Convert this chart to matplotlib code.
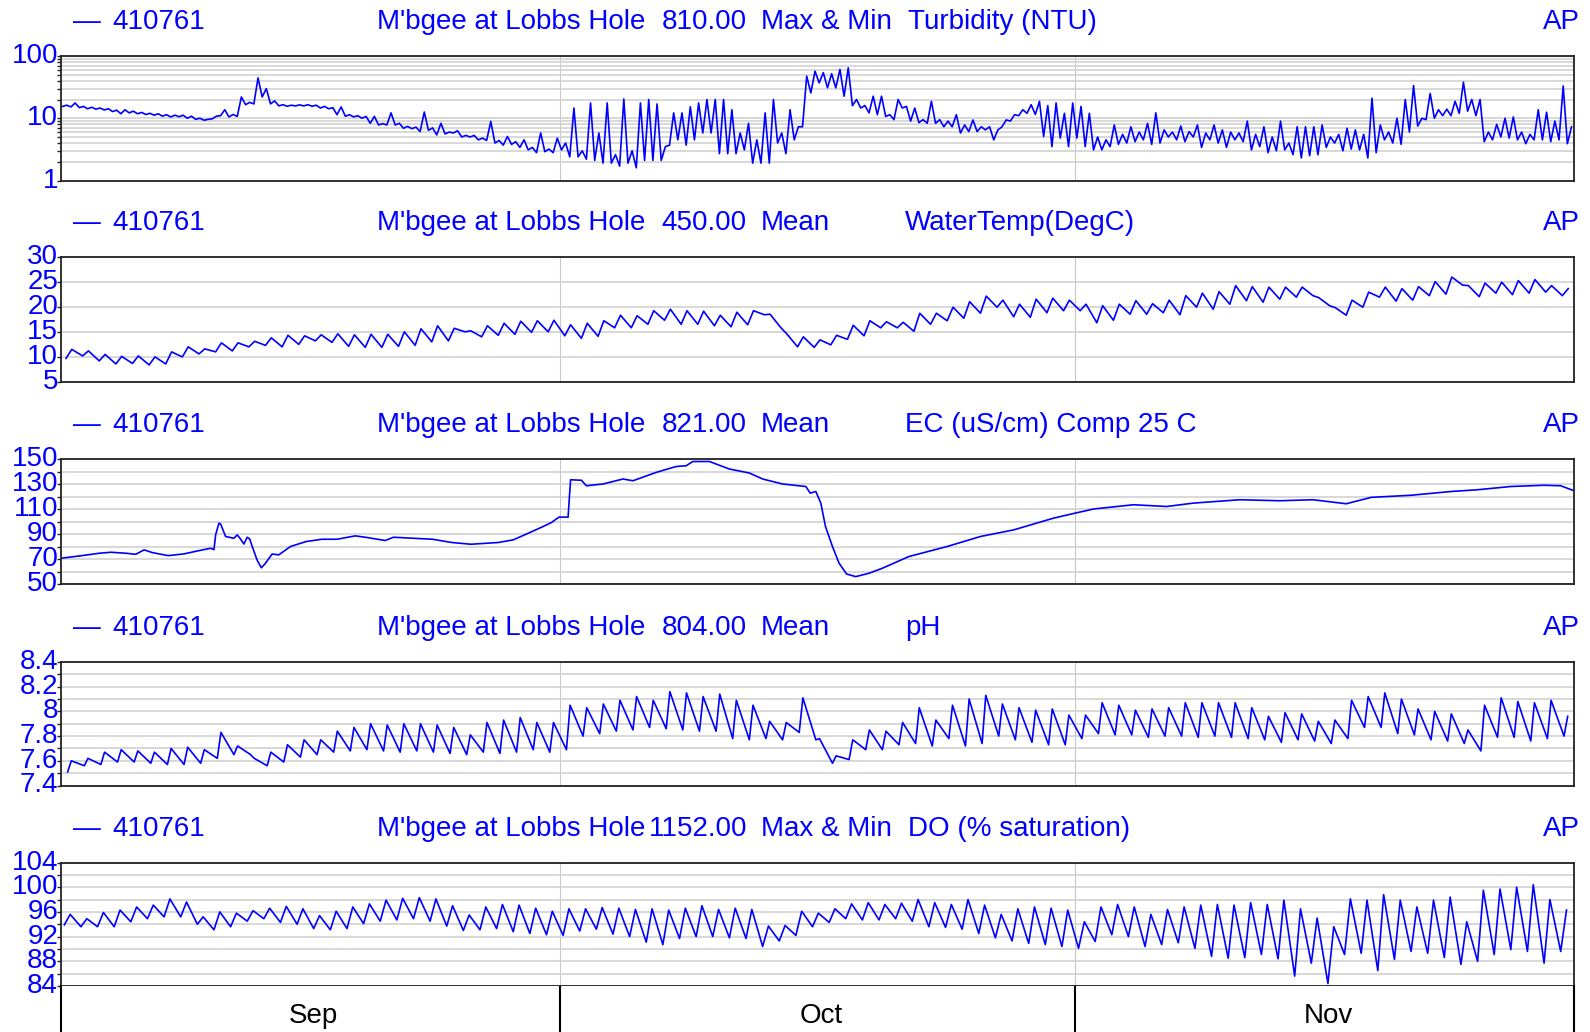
import numpy as np
import matplotlib
matplotlib.use('Agg')
import matplotlib.pyplot as plt
from matplotlib import ticker, transforms

plt.rcParams['font.family'] = ['Liberation Sans', 'DejaVu Sans']

BLUE = '#0000ff'

# header fields for each trace
station = '410761'
site = "M'bgee at Lobbs Hole"
var_nums = ['810.00', '450.00', '821.00', '804.00', '1152.00']
stats = ['Max & Min', 'Mean', 'Mean', 'Mean', 'Max & Min']
params = ['Turbidity (NTU)', 'WaterTemp(DegC)', 'EC (uS/cm) Comp 25 C', 'pH', 'DO (% saturation)']
months = ['Sep', 'Oct', 'Nov']
month_len = [30, 31, 30]

# turbidity, half-daily low / high (NTU), 1 Sep - 30 Nov
turb_lo = [
    15.5, 15.2, 14.8, 14.2, 14.0, 13.6, 12.8, 11.8, 12.2, 11.8,
    11.5, 11.2, 10.8, 10.5, 10.6, 10.0, 9.6, 9.3, 9.8, 11.0,
    10.5, 10.7, 16.5, 17.0, 22.0, 17.0, 15.8, 15.6, 15.8, 15.8,
    15.6, 14.6, 14.2, 11.4, 10.8, 10.5, 10.0, 8.3, 7.8, 7.8,
    7.8, 6.9, 6.8, 6.1, 6.4, 5.4, 5.6, 5.8, 5.0, 5.0,
    4.5, 4.4, 4.0, 3.7, 3.8, 3.4, 3.1, 2.8, 2.9, 2.8,
    3.1, 2.4, 2.4, 2.2, 2.1, 1.9, 1.9, 1.7, 1.9, 1.6,
    2.1, 2.1, 2.1, 3.7, 4.5, 3.7, 4.5, 5.8, 5.8, 2.7,
    2.7, 2.7, 3.1, 1.9, 1.9, 1.9, 4.0, 2.7, 4.5, 7.3,
    25.5, 37.0, 30.8, 30.8, 22.6, 15.9, 14.6, 12.2, 11.4, 10.7,
    9.5, 14.6, 9.0, 8.5, 8.3, 8.3, 7.3, 7.3, 5.8, 6.1,
    6.1, 6.5, 4.5, 7.3, 9.0, 11.0, 12.0, 11.5, 5.1, 3.5,
    4.8, 3.5,
    4.8, 3.5, 3.1, 3.1, 3.5, 3.8, 4.0, 4.2, 4.5, 3.8,
    4.0, 5.0, 4.5, 4.2, 5.0, 3.4, 4.5, 4.0, 3.4, 4.5,
    4.2, 3.1, 3.5, 2.8, 3.0, 3.1, 2.6, 2.3, 2.5, 2.6,
    3.4, 4.0, 3.0, 3.2, 3.1, 2.3, 2.8, 4.5, 4.0, 3.8,
    6.0, 7.5, 9.5, 10.0, 11.0, 11.0, 12.0, 13.0, 11.0, 4.2,
    4.5, 5.0, 4.8, 4.5, 3.9, 4.5, 4.5, 4.2, 4.5, 3.9,
]
turb_hi = [
    16.2, 17.6, 15.5, 15.0, 14.6, 14.2, 13.5, 13.7, 13.0, 12.4,
    12.0, 11.8, 11.4, 11.2, 11.2, 10.8, 10.0, 9.6, 10.8, 13.7,
    11.5, 22.0, 18.0, 44.5, 30.0, 19.0, 16.5, 16.2, 16.4, 16.5,
    16.2, 15.5, 14.8, 15.2, 11.4, 11.0, 10.7, 10.7, 8.2, 12.2,
    8.3, 7.4, 7.2, 12.6, 7.0, 8.3, 6.0, 6.3, 5.3, 5.3,
    4.8, 8.9, 4.4, 5.1, 4.2, 4.5, 3.4, 5.8, 3.2, 4.8,
    4.0, 14.6, 3.0, 17.6, 5.8, 17.6, 2.6, 20.4, 3.0, 17.6,
    20.0, 17.0, 3.5, 12.2, 12.2, 15.3, 17.6, 20.0, 20.0, 20.0,
    13.7, 5.8, 8.3, 4.5, 12.2, 20.0, 5.8, 13.7, 7.3, 47.5,
    57.0, 54.0, 52.0, 60.8, 64.7, 20.0, 16.0, 22.6, 22.6, 11.4,
    20.0, 15.5, 14.6, 9.5, 18.7, 9.5, 9.0, 11.4, 7.8, 9.4,
    7.3, 7.3, 6.5, 9.4, 11.4, 13.7, 16.5, 18.7, 16.0, 17.6,
    12.0, 17.6,
    15.5, 12.0, 5.0, 4.5, 7.8, 5.5, 7.3, 6.0, 8.3, 12.2,
    6.5, 6.0, 7.5, 6.1, 7.8, 5.8, 7.8, 6.5, 6.0, 5.8,
    9.0, 5.5, 7.3, 5.0, 9.0, 4.0, 7.3, 7.3, 7.3, 7.8,
    5.0, 5.5, 6.9, 6.5, 5.5, 21.0, 7.8, 6.0, 10.0, 20.0,
    33.5, 10.0, 25.0, 13.7, 14.0, 18.7, 38.0, 20.0, 20.0, 6.0,
    8.0, 10.0, 10.5, 6.0, 5.5, 13.7, 12.5, 9.0, 33.0, 7.3,
]

# water temperature, daily min / max (DegC)
temp_min = [
    9.7, 10.2, 9.2, 8.6, 8.7, 8.4, 8.6, 10.0, 10.6, 11.0, 11.2, 12.0, 12.3, 12.0, 12.5,
    13.2, 12.9, 12.1, 11.9, 11.9, 12.1, 12.3, 13.0, 13.2, 15.0, 14.0, 14.3, 14.5, 14.9, 15.0,
    14.2, 13.7, 14.1, 15.8, 15.8, 16.5, 17.3, 16.5, 16.5, 16.2, 16.0, 16.4, 18.4, 15.8, 12.0, 11.9,
    12.4, 13.5, 14.2, 15.8, 15.8, 15.1, 16.5, 17.2, 17.7, 18.7, 19.9, 18.0, 17.9, 18.8, 19.2,
    19.2, 16.8, 17.3, 18.5, 18.5, 18.8, 18.4, 19.9, 19.5, 20.5, 21.2, 20.9, 21.5, 21.9, 22.2,
    20.2, 18.3, 19.9, 21.9, 21.1, 21.3, 22.2, 22.5, 24.3, 22.0, 22.7, 22.4, 22.7, 22.9, 22.2,
]
temp_max = [
    11.5, 11.2, 10.5, 10.1, 10.2, 10.0, 11.0, 12.0, 11.6, 12.8, 12.8, 13.1, 13.8, 14.3, 14.2,
    14.4, 14.6, 14.4, 14.5, 14.5, 15.0, 15.6, 16.2, 15.7, 15.2, 16.2, 16.7, 17.1, 17.2, 17.3,
    16.4, 16.7, 17.2, 18.3, 18.2, 19.2, 19.5, 19.2, 19.1, 18.3, 18.9, 19.2, 18.5, 14.6, 14.0, 13.4,
    14.3, 16.3, 17.2, 17.0, 16.9, 18.7, 18.7, 19.9, 21.0, 22.1, 21.3, 20.5, 21.5, 21.7, 21.3,
    20.5, 20.2, 20.5, 21.2, 20.6, 21.3, 22.2, 22.7, 23.0, 24.2, 24.0, 23.9, 23.9, 23.9, 21.8,
    19.8, 21.3, 22.9, 23.9, 23.6, 24.0, 25.0, 25.9, 24.2, 24.7, 24.9, 25.2, 25.4, 24.2, 23.6,
]

# electrical conductivity (uS/cm), day offset from 1 Sep
ec_day = [
    0, 1.15, 2.3, 3.0, 3.9, 4.5, 5.0, 5.5, 6.45, 7.4,
    8.3, 9.0, 9.2, 9.3, 9.5, 9.6, 9.9, 10.4, 10.6, 10.8,
    11.0, 11.2, 11.35, 11.5, 11.8, 12.05, 12.3, 12.7, 13.1, 13.8,
    14.75, 15.7, 16.6, 17.7, 18.4, 19.5, 20.0, 22.35, 23.5, 24.65,
    26.3, 27.2, 28.1, 29.0, 29.5, 29.95, 30.5, 30.55, 30.65, 31.3,
    31.6, 32.6, 33.8, 34.4, 35.8, 37.0, 37.6, 38.0, 39.0, 40.2,
    41.4, 42.2, 43.4, 44.8, 45.06, 45.4, 45.7, 45.98, 46.4, 46.8,
    47.25, 47.8, 48.6, 49.4, 51.0, 53.3, 55.3, 57.3, 59.7, 61.0,
    62.1, 64.5, 66.5, 68.1, 70.9, 73.3, 75.3, 77.3, 78.8, 81.2,
    83.6, 85.2, 87.2, 89.2, 90.2, 91.0,
]
ec_val = [
    70.6, 72.5, 74.6, 75.4, 74.6, 73.8, 77.3, 75.1, 72.7, 74.1,
    76.7, 78.6, 77.5, 89.3, 98.7, 98.0, 88.0, 86.6, 89.3, 86.0,
    82.0, 87.4, 86.0, 80.0, 69.0, 63.0, 66.6, 74.0, 73.3, 80.0,
    84.0, 85.8, 85.8, 88.5, 87.2, 84.8, 87.4, 85.8, 83.2, 81.8,
    83.2, 85.3, 90.6, 96.0, 99.2, 103.5, 103.5, 114.0, 133.4, 133.0,
    128.6, 130.0, 134.0, 132.6, 139.3, 144.0, 144.6, 148.0, 148.0, 142.0,
    138.8, 134.0, 130.0, 128.0, 122.7, 124.0, 114.7, 96.0, 80.0, 66.6,
    58.0, 55.9, 58.6, 62.6, 72.0, 80.0, 88.0, 93.3, 102.7, 106.7,
    110.0, 113.4, 112.0, 114.7, 117.4, 116.6, 117.4, 114.2, 119.3, 121.0,
    124.0, 125.4, 128.0, 129.0, 128.6, 124.6,
]

# pH, daily min / max
ph_min = [
    7.51, 7.56, 7.57, 7.59, 7.59, 7.58, 7.57, 7.57, 7.58, 7.62, 7.65, 7.65, 7.56, 7.59, 7.63,
    7.65, 7.67, 7.68, 7.69, 7.68, 7.67, 7.68, 7.67, 7.66, 7.65, 7.67, 7.66, 7.67, 7.69, 7.67,
    7.69, 7.80, 7.82, 7.84, 7.85, 7.87, 7.86, 7.85, 7.84, 7.84, 7.78, 7.77, 7.78, 7.77, 7.83, 7.77,
    7.58, 7.61, 7.69, 7.69, 7.73, 7.74, 7.72, 7.78, 7.72, 7.74, 7.80, 7.77, 7.75, 7.73, 7.73,
    7.78, 7.82, 7.81, 7.81, 7.79, 7.80, 7.80, 7.79, 7.80, 7.79, 7.78, 7.77, 7.75, 7.77, 7.76,
    7.74, 7.78, 7.87, 7.87, 7.82, 7.81, 7.77, 7.76, 7.74, 7.68, 7.79, 7.79, 7.76, 7.78, 7.80,
]
ph_max = [
    7.60, 7.62, 7.67, 7.69, 7.68, 7.67, 7.70, 7.71, 7.69, 7.83, 7.72, 7.62, 7.67, 7.73, 7.77,
    7.77, 7.84, 7.87, 7.90, 7.89, 7.90, 7.90, 7.89, 7.87, 7.81, 7.91, 7.93, 7.95, 7.91, 7.91,
    8.05, 8.03, 8.06, 8.09, 8.12, 8.09, 8.16, 8.15, 8.12, 8.14, 8.09, 8.05, 7.92, 7.91, 8.11, 7.78,
    7.64, 7.77, 7.85, 7.84, 7.91, 8.03, 7.93, 8.05, 8.10, 8.13, 8.06, 8.03, 8.01, 8.02, 7.97,
    7.97, 8.07, 8.05, 8.01, 8.02, 8.03, 8.07, 8.07, 8.07, 8.07, 8.03, 7.96, 7.99, 7.98, 7.92,
    7.93, 8.09, 8.12, 8.15, 8.10, 8.02, 8.00, 7.98, 7.85, 8.05, 8.11, 8.08, 8.07, 8.09, 7.96,
]

# dissolved oxygen, daily min / max (% saturation)
do_min = [
    93.9, 93.6, 93.6, 93.6, 94.4, 94.9, 95.2, 95.2, 94.0, 93.1, 93.6, 94.5, 94.9, 94.3, 94.0,
    93.3, 93.1, 93.3, 94.1, 94.5, 94.7, 94.9, 94.5, 93.7, 93.0, 93.1, 93.3, 92.8, 92.5, 92.3,
    92.2, 92.9, 93.2, 92.4, 92.0, 91.1, 90.7, 91.7, 92.0, 92.0, 91.8, 91.7, 90.4, 91.3, 92.2, 93.6,
    94.3, 94.9, 94.7, 94.7, 94.9, 94.5, 93.6, 93.5, 93.2, 92.5, 91.8, 91.3, 90.9, 90.7, 90.4,
    90.1, 91.2, 92.3, 92.0, 90.4, 90.7, 91.0, 90.1, 88.8, 88.5, 88.6, 89.1, 88.4, 85.6, 87.7,
    84.4, 89.1, 89.3, 86.5, 88.3, 89.6, 89.3, 88.6, 87.5, 88.0, 89.1, 89.9, 89.6, 87.7, 89.6,
]
do_max = [
    95.6, 94.9, 95.9, 96.3, 96.8, 97.1, 98.1, 97.6, 95.2, 96.0, 95.8, 96.2, 96.6, 96.9, 96.5,
    95.4, 96.1, 96.8, 97.3, 97.9, 98.2, 98.3, 98.1, 97.0, 95.5, 96.8, 97.2, 97.1, 96.6, 96.1,
    96.5, 96.5, 96.7, 96.6, 96.4, 96.5, 96.3, 96.6, 97.0, 96.4, 96.6, 96.4, 93.7, 93.8, 96.1, 95.8,
    96.5, 97.3, 97.5, 97.2, 97.4, 98.0, 97.5, 97.2, 98.0, 97.1, 95.6, 96.5, 96.8, 96.6, 96.3,
    94.4, 96.8, 97.2, 96.8, 95.6, 96.4, 96.8, 97.1, 97.2, 97.1, 97.5, 97.2, 97.9, 96.5, 95.0,
    93.6, 98.1, 97.9, 98.8, 97.9, 96.8, 97.9, 98.4, 94.4, 99.5, 99.7, 100.0, 100.4, 98.0, 96.3,
]

days = np.arange(91)
half = np.arange(182) * 0.5


def zigzag(t0, lo, hi, t_lo, t_hi):
    t = np.column_stack([t0 + t_lo, t0 + t_hi]).ravel()
    v = np.column_stack([lo, hi]).ravel()
    return t, v


series = [
    zigzag(half, turb_lo, turb_hi, 0.1, 0.35),
    zigzag(days, temp_min, temp_max, 0.3, 0.65),
    (np.array(ec_day), np.array(ec_val)),
    zigzag(days, ph_min, ph_max, 0.4, 0.62),
    zigzag(days, do_min, do_max, 0.2, 0.55),
]

W, H = 1590, 1032
L, R = 61, 1574
panels = [(56, 180.5), (256.5, 382), (459, 584), (662, 785.5), (862.5, 986)]
ylims = [(1, 100), (5, 30), (50, 150), (7.4, 8.4), (84, 104)]
major_ticks = [None, np.arange(5, 31, 5), np.arange(50, 151, 20),
               np.arange(7.4, 8.41, 0.2), np.arange(84, 105, 4)]
minor_ticks = [None, None, np.arange(60, 150, 10),
               np.arange(7.5, 8.4, 0.2), np.arange(86, 104, 4)]
param_x = [908, 905, 905, 905, 908]

fig = plt.figure(figsize=(15.9, 10.32), dpi=100)
lab_shift = transforms.ScaledTranslation(0, 3 / 100, fig.dpi_scale_trans)

for i, (top, bot) in enumerate(panels):
    ax = fig.add_axes([L / W, 1 - bot / H, (R - L) / W, (bot - top) / H])
    t, v = series[i]
    ax.plot(t, v, color=BLUE, lw=1.2)

    ax.set_xlim(0, 91)
    ax.set_xticks(np.cumsum(month_len)[:-1])
    ax.tick_params(axis='x', length=0, labelbottom=False)
    ax.grid(axis='x', color='#c8c8c8', lw=0.8)

    if i == 0:
        ax.set_yscale('log')
        ax.yaxis.set_major_locator(ticker.LogLocator(base=10))
        ax.yaxis.set_minor_locator(ticker.LogLocator(base=10, subs=np.arange(2, 10)))
        ax.yaxis.set_minor_formatter(ticker.NullFormatter())
    else:
        ax.set_yticks(major_ticks[i])
        if minor_ticks[i] is not None:
            ax.set_yticks(minor_ticks[i], minor=True)
    ax.yaxis.set_major_formatter(ticker.FuncFormatter(lambda y, pos: '%g' % round(y, 2)))
    ax.set_ylim(*ylims[i])

    ax.grid(axis='y', which='both', color='#d2d2d2', lw=1.2)
    ax.set_axisbelow(True)
    ax.tick_params(axis='y', which='both', direction='out', length=3, width=1,
                   pad=-1, labelsize=20, labelcolor=BLUE, color='#222222')
    for s in ax.spines.values():
        s.set_color('#222222')
        s.set_linewidth(1.3)
    for tk in ax.yaxis.get_major_ticks():
        tk.label1.set_transform(tk.label1.get_transform() + lab_shift)

    # header line above each panel
    y = 1 - (top - 27) / H
    kw = dict(color=BLUE, fontsize=20, va='baseline')
    fig.text(73 / W, y, '\u2014', **kw)
    fig.text(112 / W, y, station, **kw)
    fig.text(377 / W, y, site, **kw)
    fig.text(747 / W, y, var_nums[i], ha='right', **kw)
    fig.text(761 / W, y, stats[i], **kw)
    fig.text(param_x[i] / W, y, params[i], **kw)
    fig.text(1580 / W, y, 'AP', ha='right', **kw)

# month strip along the bottom
axm = fig.add_axes([L / W, 0, (R - L) / W, (H - 986) / H])
axm.set_xlim(0, 91)
axm.set_ylim(0, 1)
axm.set_xticks([])
axm.set_yticks([])
axm.spines['top'].set_visible(False)
axm.spines['bottom'].set_visible(False)
for s in ('left', 'right'):
    axm.spines[s].set_linewidth(1.5)
start = 0
for name, n in zip(months, month_len):
    axm.text(start + n / 2 + 0.2, 0.34, name, ha='center', va='center', fontsize=20, color='black')
    start += n
    if start < 91:
        axm.axvline(start, color='black', lw=1.5)

fig.savefig('out.png', dpi=100)
